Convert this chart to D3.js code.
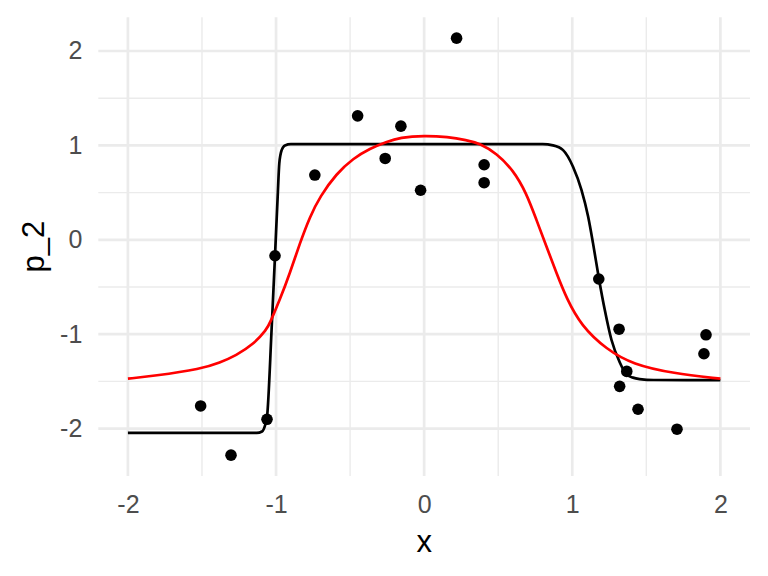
<!DOCTYPE html>
<html>
<head>
<meta charset="utf-8">
<script src="https://cdn.jsdelivr.net/npm/d3@7"></script>
<style>
  html, body { margin: 0; padding: 0; background: #ffffff; }
  svg { display: block; font-family: "Liberation Sans", Arial, sans-serif; }
</style>
</head>
<body>
<div id="chart"></div>
<script>
// observed points
const pointX = [-1.509, -1.304, -1.061, -1.007, -0.738, -0.449, -0.263, -0.157, -0.024, 0.219,
                0.405, 0.405, 1.179, 1.316, 1.320, 1.368, 1.444, 1.707, 1.889, 1.903];
const pointY = [-1.760, -2.281, -1.901, -0.169, 0.686, 1.313, 0.862, 1.204, 0.525, 2.136,
                0.795, 0.605, -0.415, -0.947, -1.552, -1.394, -1.795, -2.006, -1.207, -1.006];

// black fitted curve
const blackX = [-2, -1.13, -1.095, -1.075, -1.061, -1.030, -1.007, -0.989, -0.978, -0.962, -0.94, -0.90,
                0.80, 0.87, 0.938, 1.005, 1.062, 1.107, 1.140, 1.181, 1.219, 1.264, 1.321, 1.366,
                1.41, 1.455, 1.55, 2];
const blackY = [-2.045, -2.045, -2.03, -1.97, -1.88, -0.95, -0.17, 0.457, 0.81, 0.95, 1.0, 1.013,
                1.013, 1.0, 0.95, 0.774, 0.528, 0.246, -0.035, -0.42, -0.739, -1.056, -1.30, -1.425,
                -1.46, -1.475, -1.485, -1.486];

// red fitted curve
const redX = [-2, -1.83, -1.50, -1.38, -1.27, -1.154, -1.063, -1.041, -0.974, -0.906, -0.839, -0.771,
              -0.704, -0.591, -0.479, -0.366, -0.254, -0.164, 0, 0.16, 0.286, 0.376, 0.489, 0.601,
              0.691, 0.758, 0.826, 0.893, 0.961, 1.06, 1.231, 1.41, 1.68, 2];
const redY = [-1.471, -1.443, -1.366, -1.302, -1.225, -1.109, -0.95, -0.88, -0.634, -0.352, -0.035, 0.246,
              0.457, 0.704, 0.862, 0.968, 1.038, 1.084, 1.105, 1.09, 1.056, 1.021, 0.915, 0.739,
              0.493, 0.211, -0.071, -0.352, -0.62, -0.91, -1.162, -1.32, -1.415, -1.471];

const xBreaks = [-2, -1, 0, 1, 2];
const yBreaks = [-2, -1, 0, 1, 2];
const xMinor = [-1.5, -0.5, 0.5, 1.5];
const yMinor = [-1.5, -0.5, 0.5, 1.5];

const width = 768;
const height = 576;
const marginTop = 17.3;
const marginRight = 18;
const marginBottom = 100;
const marginLeft = 98.3;

const points = pointX.map((x, i) => ({x: x, y: pointY[i]}));
const black = blackX.map((x, i) => ({x: x, y: blackY[i]}));
const red = redX.map((x, i) => ({x: x, y: redY[i]}));

// ggplot-style 5% expansion
function expand(ext) {
    const pad = (ext[1] - ext[0]) * 0.05;
    return [ext[0] - pad, ext[1] + pad];
}
const allX = pointX.concat(blackX, redX);
const allY = pointY.concat(blackY, redY);

const x = d3.scaleLinear()
    .domain(expand(d3.extent(allX)))
    .range([marginLeft, width - marginRight]);

const y = d3.scaleLinear()
    .domain(expand(d3.extent(allY)))
    .range([height - marginBottom, marginTop]);

const svg = d3.select("#chart").append("svg")
    .attr("width", width)
    .attr("height", height)
    .attr("viewBox", [0, 0, width, height]);

// grid (minor, then major)
const grid = svg.append("g").attr("stroke", "#EBEBEB").attr("fill", "none");
grid.selectAll("line.vminor").data(xMinor).join("line")
    .attr("x1", d => x(d)).attr("x2", d => x(d))
    .attr("y1", marginTop).attr("y2", height - marginBottom)
    .attr("stroke-width", 1.4);
grid.selectAll("line.hminor").data(yMinor).join("line")
    .attr("y1", d => y(d)).attr("y2", d => y(d))
    .attr("x1", marginLeft).attr("x2", width - marginRight)
    .attr("stroke-width", 1.4);
grid.selectAll("line.vmajor").data(xBreaks).join("line")
    .attr("x1", d => x(d)).attr("x2", d => x(d))
    .attr("y1", marginTop).attr("y2", height - marginBottom)
    .attr("stroke-width", 2.7);
grid.selectAll("line.hmajor").data(yBreaks).join("line")
    .attr("y1", d => y(d)).attr("y2", d => y(d))
    .attr("x1", marginLeft).attr("x2", width - marginRight)
    .attr("stroke-width", 2.7);

// axes, no domain line or ticks (theme_minimal); plain hyphen minus like R
const fmt = d => String(d);

svg.append("g")
    .attr("transform", `translate(0,${height - marginBottom})`)
    .call(d3.axisBottom(x).tickValues(xBreaks).tickSize(0).tickPadding(19).tickFormat(fmt))
    .call(g => g.select(".domain").remove())
    .call(g => g.selectAll("text").attr("fill", "#4D4D4D").attr("font-size", 25)
        .attr("font-family", "Liberation Sans, Arial, sans-serif"));

svg.append("g")
    .attr("transform", `translate(${marginLeft},0)`)
    .call(d3.axisLeft(y).tickValues(yBreaks).tickSize(0).tickPadding(16).tickFormat(fmt))
    .call(g => g.select(".domain").remove())
    .call(g => g.selectAll("text").attr("fill", "#4D4D4D").attr("font-size", 25)
        .attr("font-family", "Liberation Sans, Arial, sans-serif"));

// axis titles
svg.append("text")
    .attr("x", (marginLeft + width - marginRight) / 2)
    .attr("y", 552)
    .attr("text-anchor", "middle")
    .attr("font-size", 31)
    .attr("fill", "#000")
    .text("x");

svg.append("text")
    .attr("transform", `translate(44,${(marginTop + height - marginBottom) / 2}) rotate(-90)`)
    .attr("text-anchor", "middle")
    .attr("font-size", 31)
    .attr("fill", "#000")
    .text("p_2");

// points
svg.append("g")
    .selectAll("circle")
    .data(points)
    .join("circle")
    .attr("cx", d => x(d.x))
    .attr("cy", d => y(d.y))
    .attr("r", 5.8)
    .attr("fill", "#000");

const blackLine = d3.line()
    .x(d => x(d.x))
    .y(d => y(d.y))
    .curve(d3.curveMonotoneX);

// smoother for the red fit, reading noise would show as kinks otherwise
const redLine = d3.line()
    .x(d => x(d.x))
    .y(d => y(d.y))
    .curve(d3.curveBasis);

svg.append("path")
    .datum(black)
    .attr("fill", "none")
    .attr("stroke", "#000")
    .attr("stroke-width", 2.7)
    .attr("stroke-linejoin", "round")
    .attr("d", blackLine);

svg.append("path")
    .datum(red)
    .attr("fill", "none")
    .attr("stroke", "#FF0000")
    .attr("stroke-width", 2.7)
    .attr("stroke-linejoin", "round")
    .attr("d", redLine);
</script>
</body>
</html>
